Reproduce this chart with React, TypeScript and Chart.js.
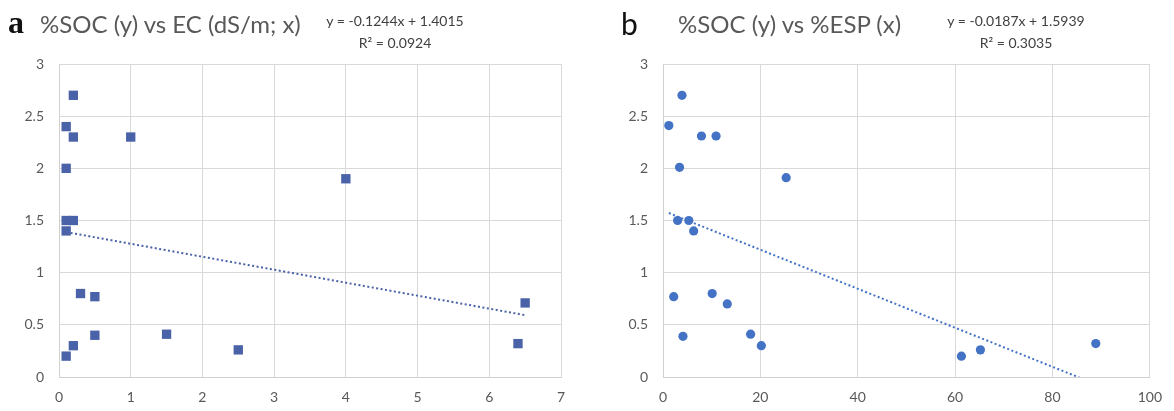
import React, { useEffect, useRef } from 'react';
import { Chart, registerables } from 'chart.js';

Chart.register(...registerables);

// Panel a: %SOC vs EC (dS/m)
const ecValues = [0.1, 0.2, 0.2, 1.0, 0.1, 4.0, 0.1, 0.2, 0.1, 0.3, 0.5, 0.5, 1.5, 2.5, 0.2, 0.1, 6.4, 6.5];
const socA = [2.4, 2.7, 2.3, 2.3, 2.0, 1.9, 1.5, 1.5, 1.4, 0.8, 0.77, 0.4, 0.41, 0.26, 0.3, 0.2, 0.32, 0.71];
const slopeA = -0.1244;
const interceptA = 1.4015;

// Panel b: %SOC vs %ESP
const espValues = [1.2, 3.9, 7.9, 10.9, 3.4, 25.3, 3.0, 5.3, 6.3, 2.2, 10.1, 13.2, 4.1, 18.0, 20.2, 61.3, 65.2, 88.9];
const socB = [2.41, 2.7, 2.31, 2.31, 2.01, 1.91, 1.5, 1.5, 1.4, 0.77, 0.8, 0.7, 0.39, 0.41, 0.3, 0.2, 0.26, 0.32];
const slopeB = -0.0187;
const interceptB = 1.5939;

const yTicksMax = 3;
const yStep = 0.5;

const FONT = 'Lato, "Open Sans", sans-serif';
const TEXT_GRAY = '#595959';

function pts(xs: number[], ys: number[]) {
  return xs.map((x, i) => ({ x, y: ys[i] }));
}

function trend(xs: number[], m: number, b: number) {
  const lo = Math.min(...xs);
  const hi = Math.max(...xs);
  return [
    { x: lo, y: m * lo + b },
    { x: hi, y: m * hi + b },
  ];
}

type PanelProps = {
  xs: number[];
  ys: number[];
  m: number;
  b: number;
  xMax: number;
  xStep: number;
  color: string;
  pointStyle: any;
  radius: number;
  yAxisWidth: number;
  padRight: number;
  width: number;
};

const fmt = (v: any) => `${+Number(v).toFixed(2)}`;

function Panel(p: PanelProps) {
  const ref = useRef<HTMLCanvasElement | null>(null);
  useEffect(() => {
    if (!ref.current) return;
    const chart = new Chart(ref.current, {
      type: 'scatter',
      data: {
        datasets: [
          {
            data: pts(p.xs, p.ys),
            backgroundColor: p.color,
            borderColor: p.color,
            borderWidth: 0,
            pointStyle: p.pointStyle,
            pointRadius: p.radius,
            pointHoverRadius: p.radius,
            order: 1,
          },
          {
            type: 'line',
            data: trend(p.xs, p.m, p.b),
            borderColor: p.color,
            borderWidth: 2,
            borderDash: [2, 2.5],
            pointRadius: 0,
            fill: false,
            clip: 0,
            order: 2,
          } as any,
        ],
      },
      options: {
        responsive: false,
        animation: false,
        events: [],
        layout: { padding: { left: 0, right: p.padRight, top: 64, bottom: 0 } },
        plugins: { legend: { display: false }, title: { display: false }, tooltip: { enabled: false } },
        scales: {
          x: {
            type: 'linear',
            min: 0,
            max: p.xMax,
            ticks: { stepSize: p.xStep, color: TEXT_GRAY, font: { family: FONT, size: 14 }, padding: 12, callback: fmt },
            grid: { color: '#d9d9d9', drawTicks: false },
            border: { color: '#d0d0d0' },
            afterFit: (s: any) => { s.height = 34; },
          },
          y: {
            type: 'linear',
            min: 0,
            max: yTicksMax,
            ticks: { stepSize: yStep, color: TEXT_GRAY, font: { family: FONT, size: 14 }, padding: 15, callback: fmt },
            grid: { color: '#d9d9d9', drawTicks: false },
            border: { color: '#d0d0d0' },
            afterFit: (s: any) => { s.width = p.yAxisWidth; },
          },
        },
      },
    });
    return () => chart.destroy();
  }, []);
  return <canvas ref={ref} width={p.width} height={411} style={{ width: p.width, height: 411, display: 'block' }} />;
}

const abs = (left: number, top: number, extra: any = {}) => ({ position: 'absolute' as const, left, top, whiteSpace: 'nowrap' as const, lineHeight: 1, ...extra });

export default function App() {
  return (
    <div style={{ position: 'fixed', left: 0, top: 0, width: 1174, height: 411, background: '#fff', overflow: 'hidden' }}>
      <div style={abs(0, 0)}>
        <Panel xs={ecValues} ys={socA} m={slopeA} b={interceptA} xMax={7} xStep={1} color="#4a62a8" pointStyle="rect" radius={6.6} yAxisWidth={59} padRight={29} width={590} />
      </div>
      <div style={abs(590, 0)}>
        <Panel xs={espValues} ys={socB} m={slopeB} b={interceptB} xMax={100} xStep={20} color="#4472c4" pointStyle="circle" radius={4.6} yAxisWidth={73} padRight={17} width={584} />
      </div>

      <div style={abs(8, 6, { fontFamily: '"Liberation Serif", serif', fontWeight: 'bold', fontSize: 32, color: '#111' })}>a</div>
      <div style={abs(40, 12, { fontFamily: FONT, fontSize: 24, color: TEXT_GRAY })}>%SOC (y) vs EC (dS/m; x)</div>
      <div style={abs(395, 10, { fontFamily: FONT, fontSize: 14, color: '#404040', transform: 'translateX(-50%)', textAlign: 'center', lineHeight: '22px' })}>
        <div>y = -0.1244x + 1.4015</div>
        <div>R² = 0.0924</div>
      </div>

      <div style={abs(621, 8, { fontFamily: FONT, fontSize: 30, color: '#111' })}>b</div>
      <div style={abs(678, 12, { fontFamily: FONT, fontSize: 24, color: TEXT_GRAY })}>%SOC (y) vs %ESP (x)</div>
      <div style={abs(1016, 10, { fontFamily: FONT, fontSize: 14, color: '#404040', transform: 'translateX(-50%)', textAlign: 'center', lineHeight: '22px' })}>
        <div>y = -0.0187x + 1.5939</div>
        <div>R² = 0.3035</div>
      </div>
    </div>
  );
}
